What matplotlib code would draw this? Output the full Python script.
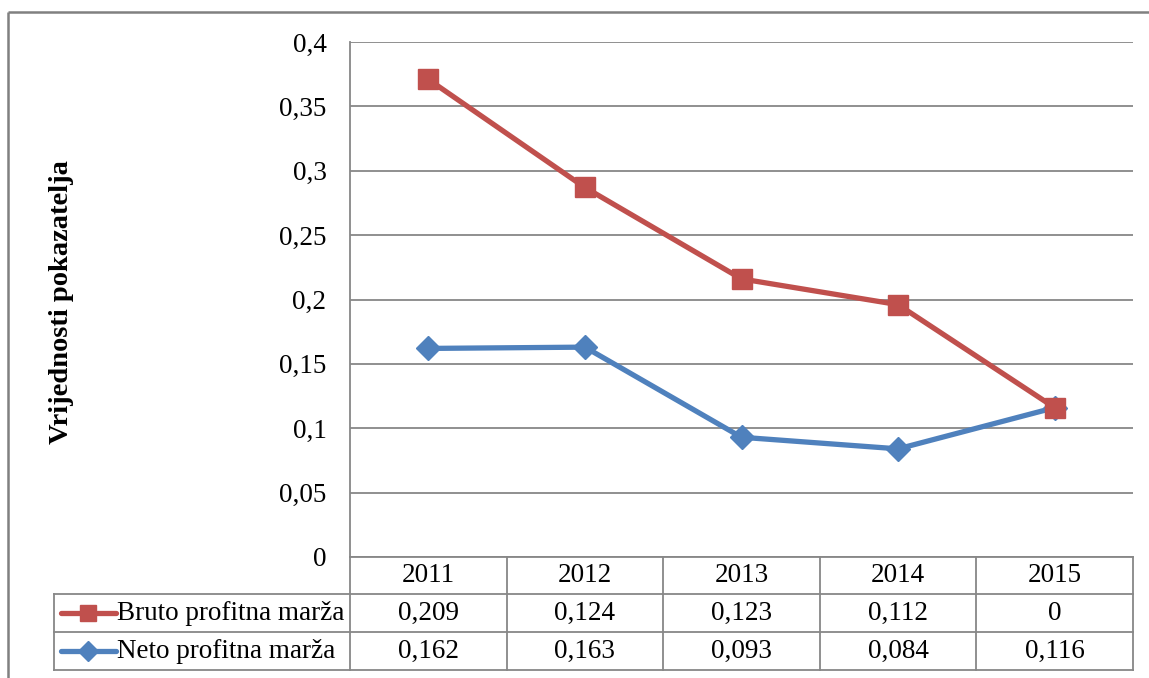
import matplotlib
matplotlib.use("Agg")
import matplotlib.pyplot as plt
import numpy as np

plt.rcParams['font.family'] = ['Liberation Serif', 'DejaVu Serif']

# ---- data ----
years = ['2011', '2012', '2013', '2014', '2015']
series_names = ['Bruto profitna marža', 'Neto profitna marža']
bruto = [0.209, 0.124, 0.123, 0.112, 0]
neto = [0.162, 0.163, 0.093, 0.084, 0.116]
y_ticks = [0, 0.05, 0.1, 0.15, 0.2, 0.25, 0.3, 0.35, 0.4]
y_label = 'Vrijednosti pokazatelja'

RED = '#C0504D'
BLUE = '#4F81BD'
GRID = '#878787'
FS = 19.5

W, H = 1149, 678
fig = plt.figure(figsize=(W / 100, H / 100), dpi=100)

# plot area (pixel geometry)
px_l, px_r, px_t, px_b = 350, 1133, 42, 557
ax = fig.add_axes([px_l / W, 1 - px_b / H, (px_r - px_l) / W, (px_b - px_t) / H])

x = np.arange(len(years))
# Excel stacked line chart: red series is stacked on top of blue
stack_top = np.add(neto, bruto)
ax.plot(x, neto, color=BLUE, lw=3.8, marker='D', ms=12, mfc=BLUE, mec=BLUE,
        zorder=3, solid_joinstyle='round')
ax.plot(x, stack_top, color=RED, lw=3.8, marker='s', ms=14.5, mfc=RED, mec=RED,
        zorder=4, solid_joinstyle='round')

ax.set_xlim(-0.5, len(years) - 0.5)
ax.set_ylim(0, 0.4)
ax.set_yticks(y_ticks)
ax.set_yticklabels([f"{v:g}".replace('.', ',') for v in y_ticks], fontsize=FS)
ax.set_xticks([])
ax.tick_params(axis='y', length=0, pad=17)
ax.grid(axis='y', color=GRID, lw=1.3)
ax.set_axisbelow(True)
for s in ['top', 'right']:
    ax.spines[s].set_visible(False)
for s in ['left', 'bottom']:
    ax.spines[s].set_color(GRID)
    ax.spines[s].set_linewidth(1.3)

fig.text(62 / W, 1 - 302 / H, y_label, rotation=90, ha='center', va='center',
         fontsize=20.5, fontweight='bold')

# ---- overlay for data table & chart border ----
ov = fig.add_axes([0, 0, 1, 1], facecolor='none')
ov.set_xlim(0, W)
ov.set_ylim(H, 0)
ov.axis('off')

# chart border (left and top)
ov.plot([8, 8], [12, H], color='#808080', lw=1.8, solid_capstyle='butt')
ov.plot([8, W], [12, 12], color='#808080', lw=1.8, solid_capstyle='butt')

row_y = [557, 594, 632, 670]
tbl_l = 54
col_w = (px_r - px_l) / len(years)
col_edges = [px_l + k * col_w for k in range(len(years) + 1)]
lw_t = 1.3
for yy in row_y[1:]:
    ov.plot([tbl_l, px_r], [yy, yy], color=GRID, lw=lw_t)
ov.plot([tbl_l, tbl_l], [row_y[1], row_y[3]], color=GRID, lw=lw_t)
for xe in col_edges:
    ov.plot([xe, xe], [row_y[0], row_y[3]], color=GRID, lw=lw_t)

centers = [(col_edges[k] + col_edges[k + 1]) / 2 for k in range(len(years))]
yc = [(row_y[i] + row_y[i + 1]) / 2 for i in range(3)]
for c, yr in zip(centers, years):
    ov.text(c, yc[0], yr, ha='center', va='center', fontsize=FS)

rows = [(series_names[0], bruto, RED, 's', 12), (series_names[1], neto, BLUE, 'D', 10)]
for i, (name, vals, col, mk, ms) in enumerate(rows):
    yy = yc[i + 1]
    ov.plot([61, 116], [yy, yy], color=col, lw=3.8, solid_capstyle='round')
    ov.plot([88], [yy], marker=mk, ms=ms, color=col, mec=col)
    ov.text(117, yy, name, ha='left', va='center', fontsize=FS)
    for c, v in zip(centers, vals):
        ov.text(c, yy, f"{v:g}".replace('.', ','), ha='center', va='center', fontsize=FS)

fig.savefig('out.png', dpi=100)
